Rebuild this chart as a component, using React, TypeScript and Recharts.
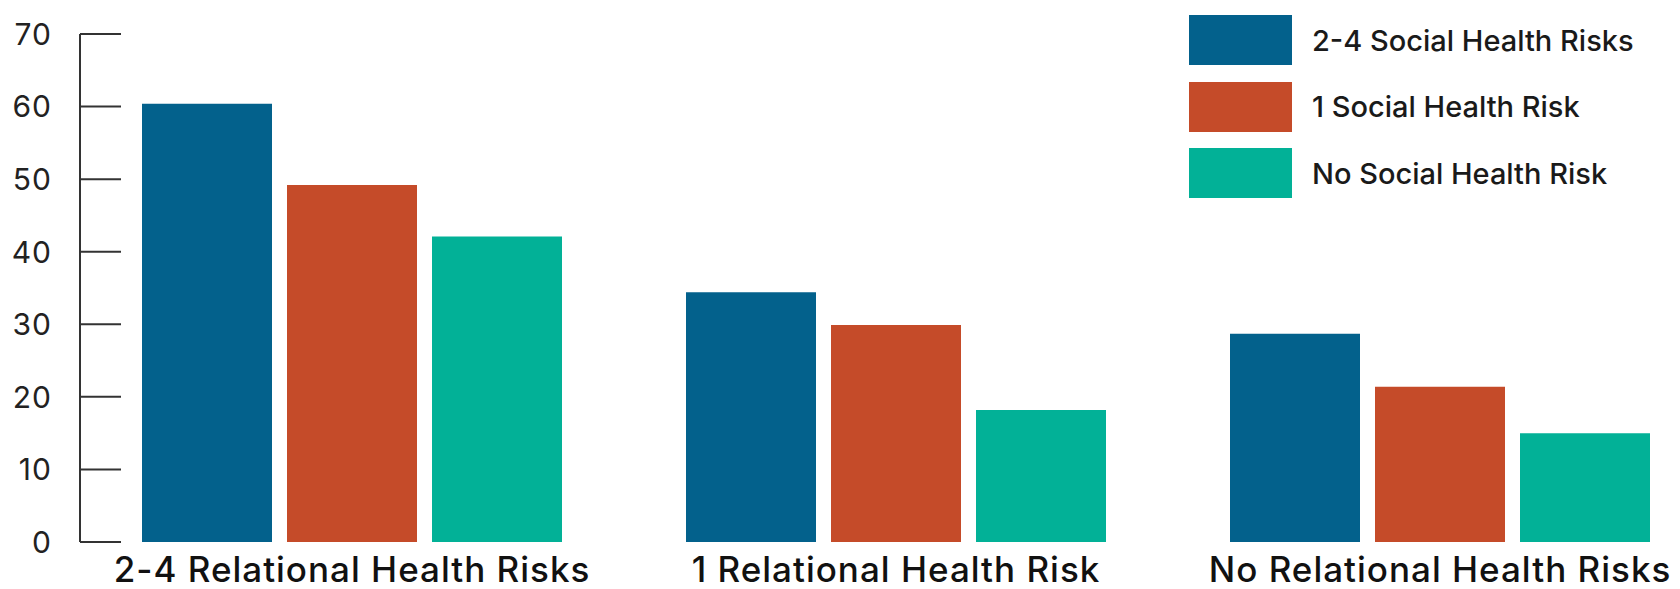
import React from 'react';
import { BarChart, Bar, XAxis, YAxis, Legend } from 'recharts';

const categories = ['2-4 Relational Health Risks', '1 Relational Health Risk', 'No Relational Health Risks'];
const seriesNames = ['2-4 Social Health Risks', '1 Social Health Risk', 'No Social Health Risk'];
const highRisk = [60.4, 34.4, 28.7];
const oneRisk = [49.2, 29.9, 21.4];
const noRisk = [42.1, 18.2, 15.0];
const yTicks = [0, 10, 20, 30, 40, 50, 60, 70];

const colors = ['#03618C', '#C54B29', '#02B197'];
const FONT = 'Inter, "Open Sans", sans-serif';

const data = categories.map((name, i) => ({
  name,
  high: highRisk[i],
  one: oneRisk[i],
  none: noRisk[i],
}));

// y labels sit left of the axis, tick marks point right into the plot
const YTick = (props: any) => {
  const { x, y, payload } = props;
  const axisX = x + 28;
  return (
    <g>
      <text x={x} y={y} dy="0.36em" textAnchor="end" fontSize={30} letterSpacing={1} fill="#222" fontFamily={FONT}>
        {payload.value}
      </text>
      <line x1={axisX} x2={axisX + 41} y1={y} y2={y} stroke="#333" strokeWidth={2} />
    </g>
  );
};

const renderLegend = (props: any) => {
  // keep the series order, recharts sorts the payload by name
  const payload = [...props.payload].sort(
    (a: any, b: any) => seriesNames.indexOf(a.value) - seriesNames.indexOf(b.value)
  );
  return (
    <div>
      {payload.map((entry: any) => (
        <div key={entry.value} style={{ display: 'flex', alignItems: 'center', height: 50, marginBottom: 16.7 }}>
          <div style={{ width: 103, height: 50, background: entry.color }} />
          <span
            style={{
              marginLeft: 20,
              fontSize: 29,
              fontWeight: 500,
              color: '#1a1a1a',
              fontFamily: FONT,
              whiteSpace: 'nowrap',
            }}
          >
            {entry.value}
          </span>
        </div>
      ))}
    </div>
  );
};

export default function App() {
  return (
    <div style={{ position: 'absolute', left: 0, top: 0, width: 1680, height: 589, overflow: 'hidden', background: '#fff' }}>
      <BarChart
        width={1712}
        height={589}
        data={data}
        margin={{ top: 34, right: 0, left: 0, bottom: 0 }}
        barGap={15}
      >
        <XAxis
          dataKey="name"
          height={47}
          axisLine={false}
          tickLine={false}
          interval={0}
          tickMargin={9}
          tick={{ fontSize: 35, fontWeight: 500, letterSpacing: 1, fill: '#111', fontFamily: FONT }}
        />
        <YAxis
          width={80}
          domain={[0, 70]}
          ticks={yTicks}
          interval={0}
          tickSize={0}
          tickMargin={28}
          tickLine={false}
          axisLine={{ stroke: '#333', strokeWidth: 2 }}
          tick={<YTick />}
        />
        <Legend
          layout="vertical"
          align="center"
          verticalAlign="middle"
          content={renderLegend}
          wrapperStyle={{ left: 1189, top: 15, width: 480 }}
        />
        <Bar dataKey="high" name={seriesNames[0]} fill={colors[0]} barSize={130} isAnimationActive={false} />
        <Bar dataKey="one" name={seriesNames[1]} fill={colors[1]} barSize={130} isAnimationActive={false} />
        <Bar dataKey="none" name={seriesNames[2]} fill={colors[2]} barSize={130} isAnimationActive={false} />
      </BarChart>
    </div>
  );
}
